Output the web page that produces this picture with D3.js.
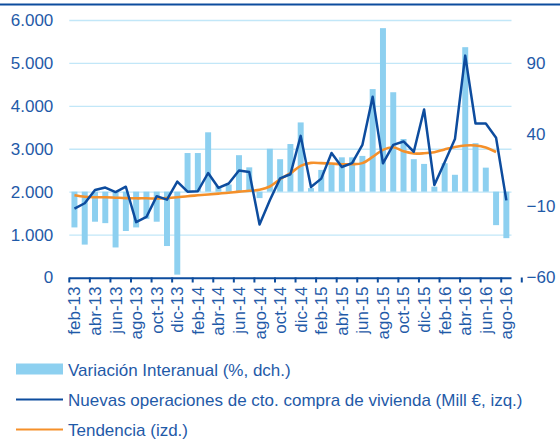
<html>
<head>
  <meta charset="UTF-8">
  <title>Nuevas operaciones compra de vivienda</title>
  <script src="https://d3js.org/d3.v7.min.js"></script>
  <style>
    body { margin: 0; background: #fff; }
    text { font-family: "Liberation Sans", Arial, sans-serif; }
  </style>
</head>
<body>
  <svg id="chart" width="560" height="439"></svg>
  <script>
    // categories
    const months = ["feb-13","mar-13","abr-13","may-13","jun-13","jul-13","ago-13","sep-13","oct-13","nov-13","dic-13",
      "ene-14","feb-14","mar-14","abr-14","may-14","jun-14","jul-14","ago-14","sep-14","oct-14","nov-14","dic-14",
      "ene-15","feb-15","mar-15","abr-15","may-15","jun-15","jul-15","ago-15","sep-15","oct-15","nov-15","dic-15",
      "ene-16","feb-16","mar-16","abr-16","may-16","jun-16","jul-16","ago-16"];

    // Variación interanual (%, dch.)
    const variacion = [-25, -37, -21, -22, -39, -27.5, -25, -19, -21, -38, -58,
      27, 27, 41.5, 4, 5, 25.5, 17, -4.5, 30, 22.7, 33.3, 48.4,
      2.5, 15.2, 20, 24, 24, 25, 71.7, 114.3, 69.5, 36.8, 22.7, 19.4, 3.5,
      19.9, 11.8, 101, 33.9, 16.8, -23.4, -32.5];

    // Nuevas operaciones (Mill €, izq.)
    const operaciones = [1605, 1730, 2040, 2095, 1990, 2115, 1290, 1410, 1895, 1815, 2235,
      2000, 2010, 2435, 2090, 2190, 2495, 2460, 1237, 1800, 2310, 2405, 3300,
      2110, 2304, 2902, 2575, 2665, 3090, 4210, 2660, 3090, 3170, 2930, 3915, 2155,
      2685, 3225, 5170, 3588, 3588, 3258, 1798];

    // Tendencia (izq.)
    const tendencia = [1915, 1880, 1870, 1870, 1860, 1850, 1845, 1845, 1840, 1850, 1870,
      1895, 1915, 1935, 1955, 1975, 2000, 2020, 2045, 2120, 2290, 2430, 2600,
      2670, 2665, 2655, 2640, 2640, 2665, 2810, 2975, 3035, 2940, 2890, 2895, 2920,
      2985, 3040, 3075, 3075, 3030, 2925, null];

    const leftTicks = [0, 1000, 2000, 3000, 4000, 5000, 6000];
    const rightTicks = [-60, -10, 40, 90];

    const legendItems = ["Variación Interanual (%, dch.)",
      "Nuevas operaciones de cto. compra de vivienda (Mill €, izq.)",
      "Tendencia (izd.)"];

    /* Constants */
    const textColor = "#1f5aa8";
    const darkBlue = "#0d4c9e";
    const barColor = "#8dd0f0";
    const gridColor = "#c2e7f8";
    const orange = "#f5902a";

    const margin = { top: 20, left: 69.3, right: 48.5, bottom: 161.5 };
    const svg = d3.select("#chart");
    const width = +svg.attr("width");
    const height = +svg.attr("height");
    const plotRight = width - margin.right;
    const plotBottom = height - margin.bottom;

    const es = d3.formatLocale({ decimal: ",", thousands: ".", grouping: [3], currency: ["", " €"] });
    const fmt = es.format(",");

    const x = d3.scaleBand().domain(months).range([margin.left, plotRight]).paddingInner(0.42).paddingOuter(0.21);
    const yLeft = d3.scaleLinear().domain([0, 6000]).range([plotBottom, margin.top]);
    const yRight = d3.scaleLinear().domain([-60, 120]).range([plotBottom, margin.top]);
    const step = x.step();

    // top rule
    svg.append("line")
      .attr("x1", 0).attr("x2", width)
      .attr("y1", 4.5).attr("y2", 4.5)
      .attr("stroke", darkBlue).attr("stroke-width", 2);

    // gridlines
    svg.append("g").attr("class", "gridlines")
      .attr("transform", `translate(${margin.left},0)`)
      .call(d3.axisLeft(yLeft).tickValues(leftTicks.slice(1)).tickSize(-(plotRight - margin.left)).tickFormat(""))
      .call(g => g.select(".domain").remove())
      .call(g => g.selectAll("line").attr("stroke", gridColor).attr("stroke-width", 1.3));

    // left axis labels
    svg.append("g")
      .attr("transform", `translate(${margin.left},0)`)
      .call(d3.axisLeft(yLeft).tickValues(leftTicks).tickSize(0).tickPadding(16).tickFormat(fmt))
      .call(g => g.select(".domain").remove())
      .call(g => g.selectAll("text").attr("fill", textColor).style("font-size", "17px")
        .style("font-family", "'Liberation Sans', Arial, sans-serif"));

    // right axis labels
    svg.append("g")
      .attr("transform", `translate(${plotRight},0)`)
      .call(d3.axisRight(yRight).tickValues(rightTicks).tickSize(0).tickPadding(15))
      .call(g => g.select(".domain").remove())
      .call(g => g.selectAll("text").attr("fill", textColor).style("font-size", "17px")
        .style("font-family", "'Liberation Sans', Arial, sans-serif"));

    // bars
    svg.append("g").selectAll("rect")
      .data(variacion)
      .join("rect")
      .attr("x", (d, i) => x(months[i]))
      .attr("width", x.bandwidth())
      .attr("y", d => Math.min(yRight(0), yRight(d)))
      .attr("height", d => Math.abs(yRight(d) - yRight(0)))
      .attr("fill", barColor);

    // x axis line and ticks
    svg.append("line")
      .attr("x1", margin.left).attr("x2", plotRight)
      .attr("y1", plotBottom + 0.8).attr("y2", plotBottom + 0.8)
      .attr("stroke", darkBlue).attr("stroke-width", 2);

    svg.append("g").selectAll("line")
      .data(months.filter((m, i) => i % 2 === 0).concat(["end"]))
      .join("line")
      .attr("x1", (d, i) => margin.left + i * 2 * step)
      .attr("x2", (d, i) => margin.left + i * 2 * step)
      .attr("y1", plotBottom).attr("y2", plotBottom + 5)
      .attr("stroke", darkBlue).attr("stroke-width", 2);

    // x labels
    svg.append("g").selectAll("text")
      .data(months.filter((m, i) => i % 2 === 0))
      .join("text")
      .attr("transform", d => `translate(${x(d) + x.bandwidth() / 2},${plotBottom + 9}) rotate(-90)`)
      .attr("text-anchor", "end")
      .attr("dy", "0.35em")
      .attr("fill", textColor)
      .style("font-size", "17px")
      .text(d => d);

    // lines
    const line = d3.line()
      .x((d, i) => x(months[i]) + x.bandwidth() / 2)
      .y(d => yLeft(d));

    svg.append("path")
      .datum(tendencia)
      .attr("d", line.defined(d => d !== null).curve(d3.curveCatmullRom.alpha(0.5)))
      .attr("fill", "none")
      .attr("stroke", orange)
      .attr("stroke-width", 2.6);

    svg.append("path")
      .datum(operaciones)
      .attr("d", d3.line()
        .x((d, i) => x(months[i]) + x.bandwidth() / 2)
        .y(d => yLeft(d)))
      .attr("fill", "none")
      .attr("stroke", darkBlue)
      .attr("stroke-width", 2.5)
      .attr("stroke-linejoin", "round");

    // legend
    const legend = svg.append("g");
    const rowY = [369, 399.5, 429.5];

    legend.append("rect")
      .attr("x", 16).attr("y", rowY[0] - 5.5)
      .attr("width", 47).attr("height", 11)
      .attr("fill", barColor);
    legend.append("line")
      .attr("x1", 16).attr("x2", 63).attr("y1", rowY[1]).attr("y2", rowY[1])
      .attr("stroke", darkBlue).attr("stroke-width", 2);
    legend.append("line")
      .attr("x1", 16).attr("x2", 63).attr("y1", rowY[2]).attr("y2", rowY[2])
      .attr("stroke", orange).attr("stroke-width", 2);

    legend.selectAll("text")
      .data(legendItems)
      .join("text")
      .attr("x", 68)
      .attr("y", (d, i) => rowY[i] + 6.5)
      .attr("fill", textColor)
      .style("font-size", "17px")
      .text(d => d);
  </script>
</body>
</html>
